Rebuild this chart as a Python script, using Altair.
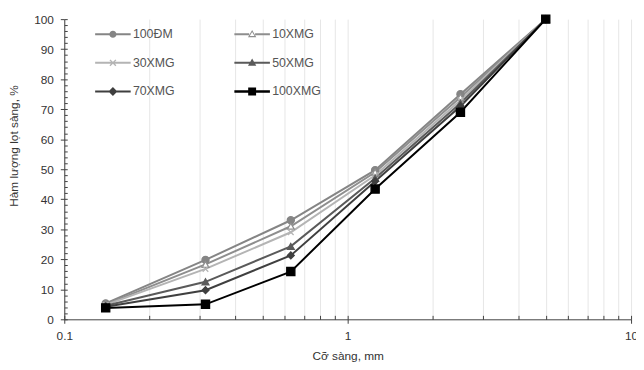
import altair as alt
import pandas as pd

# ---- data ----
sizes = [0.14, 0.315, 0.63, 1.25, 2.5, 5]
series_names = ["100ĐM", "10XMG", "30XMG", "50XMG", "70XMG", "100XMG"]
v_100DM = [5.3, 19.8, 33.0, 49.7, 75.0, 100]
v_10XMG = [5.0, 18.3, 31.0, 49.0, 74.0, 100]
v_30XMG = [4.8, 16.8, 29.0, 48.0, 73.0, 100]
v_50XMG = [4.5, 12.5, 24.3, 47.0, 72.0, 100]
v_70XMG = [4.2, 9.7, 21.3, 46.0, 71.0, 100]
v_100XMG = [3.8, 5.0, 15.9, 43.4, 69.0, 100]
all_values = [v_100DM, v_10XMG, v_30XMG, v_50XMG, v_70XMG, v_100XMG]

x_ticks = [0.1, 0.2, 0.3, 0.4, 0.5, 0.6, 0.7, 0.8, 0.9,
           1, 2, 3, 4, 5, 6, 7, 8, 9, 10]
y_major = list(range(0, 101, 10))
y_minor = list(range(0, 101, 2))

# ---- styles ----
line_colors = ["#858585", "#8e8e8e", "#b4b4b4", "#5a5a5a", "#3f3f3f", "#000000"]
marker_fills = ["#858585", "#ffffff", "#b4b4b4", "#5a5a5a", "#3f3f3f", "#000000"]
marker_shapes = ["circle", "triangle-up", "M-1,-1L1,1M-1,1L1,-1",
                 "triangle-up", "diamond", "square"]
marker_sizes = [52, 48, 32, 48, 48, 68]
line_widths = [2, 2, 2, 2, 2, 2.2]

L = "M-18,-1H18V1H-18Z"
legend_paths = [
    L + " M0,-3.6A3.6,3.6,0,1,1,0,3.6A3.6,3.6,0,1,1,0,-3.6Z",
    "M-18,-1H-3V1H-18Z M3,-1H18V1H3Z M0,-4.5L4.2,3L-4.2,3Z M0,-2.3L-2.4,1.8L2.4,1.8Z",
    L + " M-3.5,-2.5L-2.5,-3.5L3.5,2.5L2.5,3.5Z M2.5,-3.5L3.5,-2.5L-2.5,3.5L-3.5,2.5Z",
    L + " M0,-4.5L4.2,3L-4.2,3Z",
    L + " M0,-4.5L4.5,0L0,4.5L-4.5,0Z",
    "M-18,-1.2H18V1.2H-18Z M-4,-4H4V4H-4Z",
]
# legend fills column by column: reorder so rows read 100ĐM|10XMG, 30XMG|50XMG, 70XMG|100XMG
legend_index = [0, 2, 4, 1, 3, 5]
legend_order = [series_names[i] for i in legend_index]
legend_colors = [line_colors[i] for i in legend_index]
legend_shapes = [legend_paths[i] for i in legend_index]

rows = []
for name, vals, ms in zip(series_names, all_values, marker_sizes):
    for s, v in zip(sizes, vals):
        rows.append({"series": name, "size": s, "pass": v, "msize": ms})
df = pd.DataFrame(rows)

FONT = "Liberation Sans"
AX = "#404040"

x_scale = alt.Scale(type="log", domain=[0.1, 10])
y_scale = alt.Scale(domain=[0, 100], nice=False)

major_test = "datum.value == 0.1 || datum.value == 1 || datum.value == 10"

main_x_axis = alt.Axis(
    values=x_ticks, grid=True, gridColor="#e6e6e6", gridWidth=1,
    domainColor=AX, domainWidth=1,
    tickColor={"condition": {"test": major_test, "value": AX}, "value": "transparent"},
    tickSize=4, tickWidth=1,
    labelExpr=f"({major_test}) ? format(datum.value, '~g') : ''",
    labelOverlap=False, labelFlush=False,
    labelFont=FONT, labelFontSize=12, labelColor="#333333", labelPadding=7,
    title="Cỡ sàng, mm", titleFont=FONT, titleFontSize=12, titleFontWeight="normal",
    titleColor="#333333", titlePadding=10,
)
main_y_axis = alt.Axis(
    values=y_major, grid=False, domainColor=AX, domainWidth=1,
    tickColor=AX, tickSize=4, tickWidth=1,
    labelFont=FONT, labelFontSize=12, labelColor="#333333", labelPadding=7,
    title="Hàm lượng lọt sàng, %", titleFont=FONT, titleFontSize=12,
    titleFontWeight="normal", titleColor="#333333",
    titleX=-51, titleY=128, titleAngle=270, titleAlign="center", titleBaseline="middle",
)
minor_x_axis = alt.Axis(
    orient="bottom", values=x_ticks, grid=False, domain=False, labels=False,
    ticks=True, tickSize=4, tickColor=AX, tickWidth=1, offset=-4, title=None,
)
minor_y_axis = alt.Axis(
    orient="left", values=y_minor, grid=False, domain=False, labels=False,
    ticks=True, tickSize=3, tickColor=AX, tickWidth=1, offset=-3, title=None,
)

base = alt.Chart(df)

lines = base.mark_line().encode(
    x=alt.X("size:Q", scale=x_scale, axis=main_x_axis),
    y=alt.Y("pass:Q", scale=y_scale, axis=main_y_axis),
    stroke=alt.Stroke("series:N", scale=alt.Scale(domain=series_names, range=line_colors), legend=None),
    strokeWidth=alt.StrokeWidth("series:N", scale=alt.Scale(domain=series_names, range=line_widths), legend=None),
)

points = base.mark_point(filled=True, opacity=1, strokeWidth=1.3).encode(
    x=alt.X("size:Q", scale=x_scale, axis=None),
    y=alt.Y("pass:Q", scale=y_scale, axis=None),
    stroke=alt.Stroke("series:N", scale=alt.Scale(domain=series_names, range=line_colors), legend=None),
    fill=alt.Fill("series:N", scale=alt.Scale(domain=series_names, range=marker_fills), legend=None),
    shape=alt.Shape("series:N", scale=alt.Scale(domain=series_names, range=marker_shapes), legend=None),
    size=alt.Size("msize:Q", scale=None),
)

leg = dict(
    title=None, orient="none", legendX=43, legendY=9, columns=2,
    symbolSize=4, symbolStrokeWidth=0, labelOffset=14,
    labelFont=FONT, labelFontSize=12.5, labelColor="#555555", labelLimit=200,
    rowPadding=16, columnPadding=60, padding=0,
)
legend_layer = base.transform_filter("false").mark_point(filled=True, opacity=1, size=4).encode(
    x=alt.X("size:Q", scale=x_scale, axis=None),
    y=alt.Y("pass:Q", scale=y_scale, axis=None),
    color=alt.Color("series:N", scale=alt.Scale(domain=legend_order, range=legend_colors),
                    legend=alt.Legend(**leg)),
    shape=alt.Shape("series:N", scale=alt.Scale(domain=legend_order, range=legend_shapes),
                    legend=alt.Legend(**leg)),
)

ticks_layer = base.transform_filter("false").mark_point(opacity=0).encode(
    x=alt.X("size:Q", scale=x_scale, axis=minor_x_axis),
    y=alt.Y("pass:Q", scale=y_scale, axis=minor_y_axis),
)

chart = alt.layer(lines, points, legend_layer, ticks_layer).resolve_scale(
    shape="independent", color="independent"
).resolve_axis(
    x="independent", y="independent"
).properties(
    width=574, height=304,
    autosize=alt.AutoSizeParams(type="none"),
    padding={"left": 57, "top": 9, "right": 5, "bottom": 45},
    background="white",
).configure_view(stroke=None)

chart.save("out.html", embed_options={"renderer": "svg", "actions": False})
